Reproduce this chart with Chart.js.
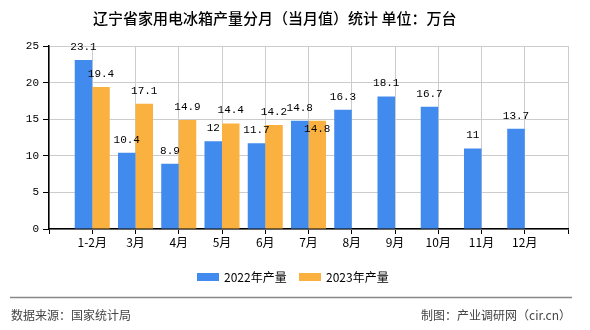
<!DOCTYPE html>
<html>
<head>
<meta charset="utf-8">
<script src="https://cdn.jsdelivr.net/npm/chart.js@4/dist/chart.umd.min.js"></script>
<style>
  html, body { margin: 0; padding: 0; background: #fff; }
  #wrap { width: 590px; height: 330px; }
</style>
</head>
<body>
<div id="wrap"><canvas id="myChart" width="590" height="330"></canvas></div>
<script>
// chart data
var months = ["1-2月", "3月", "4月", "5月", "6月", "7月", "8月", "9月", "10月", "11月", "12月"];
var output2022 = [23.1, 10.4, 8.9, 12, 11.7, 14.8, 16.3, 18.1, 16.7, 11, 13.7];
var output2023 = [19.4, 17.1, 14.9, 14.4, 14.2, 14.8];
var yTicks = [0, 5, 10, 15, 20, 25];
var seriesNames = ["2022年产量", "2023年产量"];

var blue = "#428bee";
var orange = "#fbb13f";
var cjk = "'Noto Sans CJK SC', sans-serif";
var mono = "'Liberation Mono', 'Noto Sans CJK SC', monospace";

// axis runs from an empty slot before 1-2月 to an empty slot after 12月
var labels = [""].concat(months, [""]);
function pad(arr) {
    var out = [null];
    for (var i = 0; i < months.length; i++) {
        out.push(i < arr.length ? arr[i] : null);
    }
    out.push(null);
    return out;
}

//Draws title, value labels, legend and footer
var extras = {
    id: "extras",
    afterDatasetsDraw: function(chart) {
        var ctx = chart.ctx;
        ctx.save();

        // value labels
        ctx.font = "11px " + mono;
        ctx.fillStyle = "#000";
        ctx.textAlign = "center";
        ctx.textBaseline = "middle";
        var m0 = chart.getDatasetMeta(0);
        var m1 = chart.getDatasetMeta(1);
        var d0 = chart.data.datasets[0].data;
        var d1 = chart.data.datasets[1].data;
        for (var i = 0; i < d0.length; i++) {
            if (d0[i] != null) {
                var b = m0.data[i];
                ctx.fillText(String(d0[i]), b.x, b.y - 13);
            }
            if (d1[i] != null) {
                var o = m1.data[i];
                var clash = d0[i] != null && Math.abs(d0[i] - d1[i]) < 1;
                ctx.fillText(String(d1[i]), o.x, clash ? o.y + 8 : o.y - 13);
            }
        }

        // title
        ctx.font = "500 15px " + cjk;
        ctx.textAlign = "left";
        ctx.fillText("辽宁省家用电冰箱产量分月（当月值）统计 单位：万台", 93, 18);

        // legend
        ctx.font = "12px " + cjk;
        ctx.fillStyle = blue;
        ctx.fillRect(197, 273, 22, 8);
        ctx.fillStyle = orange;
        ctx.fillRect(299, 273, 22, 8);
        ctx.fillStyle = "#000";
        ctx.fillText(seriesNames[0], 224, 277);
        ctx.fillText(seriesNames[1], 326, 277);

        // footer
        ctx.strokeStyle = "#888";
        ctx.lineWidth = 1.5;
        ctx.beginPath();
        ctx.moveTo(10, 297.5);
        ctx.lineTo(572, 297.5);
        ctx.stroke();
        ctx.fillStyle = "#444";
        ctx.font = "12px " + cjk;
        ctx.fillText("数据来源：国家统计局", 11, 315);
        ctx.textAlign = "right";
        ctx.fillText("制图：产业调研网（cir.cn）", 571, 315);

        ctx.restore();
    }
};

var ctx = document.getElementById("myChart");
var myChart = new Chart(ctx, {
    type: "bar",
    data: {
        labels: labels,
        datasets: [{
            label: seriesNames[0],
            data: pad(output2022),
            backgroundColor: blue,
            barPercentage: 1.0,
            categoryPercentage: 0.81
        }, {
            label: seriesNames[1],
            data: pad(output2023),
            backgroundColor: orange,
            barPercentage: 1.0,
            categoryPercentage: 0.81
        }]
    },
    options: {
        responsive: false,
        animation: false,
        layout: { padding: { top: 46, right: 22, bottom: 81, left: 0 } },
        plugins: {
            legend: { display: false },
            tooltip: { enabled: false },
            title: { display: false }
        },
        scales: {
            x: {
                offset: false,
                grid: { offset: false, color: "#cccccc", tickColor: "#000", tickLength: 5, drawTicks: true },
                border: { color: "#000", width: 1.5 },
                ticks: { color: "#000", font: { size: 12, family: cjk }, padding: 1, maxRotation: 0, autoSkip: false },
                afterFit: function(scale) { scale.height = 20; }
            },
            y: {
                min: yTicks[0],
                max: yTicks[yTicks.length - 1],
                afterBuildTicks: function(scale) {
                    scale.ticks = yTicks.map(function(v) { return { value: v }; });
                },
                grid: { color: "#cccccc", tickColor: "#000", tickLength: 6 },
                border: { color: "#000", width: 1.5 },
                ticks: { color: "#000", font: { size: 11, family: mono }, padding: 4 },
                afterFit: function(scale) { scale.width = 49; }
            }
        }
    },
    plugins: [extras]
});
</script>
</body>
</html>
